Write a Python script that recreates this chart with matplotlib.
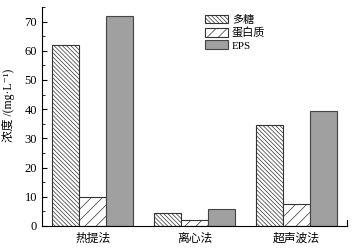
import matplotlib
matplotlib.use("Agg")
import matplotlib.pyplot as plt
import numpy as np
from matplotlib.ticker import MultipleLocator

plt.rcParams['font.family'] = ['Liberation Serif', 'Noto Sans CJK SC', 'DejaVu Serif']
plt.rcParams['hatch.linewidth'] = 0.5
plt.rcParams['hatch.color'] = '#333333'

categories = ['热提法', '离心法', '超声波法']
series_names = ['多糖', '蛋白质', 'EPS']
polysaccharide = [62, 4.3, 34.5]
protein = [10, 2.0, 7.5]
eps = [72, 5.8, 39.3]

fig = plt.figure(figsize=(3.56, 2.5), dpi=100)
ax = fig.add_axes([0.118, 0.096, 0.857, 0.876])

x = np.arange(len(categories))
w = 0.265
ax.bar(x - w, polysaccharide, w, facecolor='white', edgecolor='#333333', hatch='\\' * 8, linewidth=0.8, label=series_names[0])
ax.bar(x, protein, w, facecolor='white', edgecolor='#333333', hatch='///', linewidth=0.8, label=series_names[1])
ax.bar(x + w, eps, w, facecolor='#a0a0a0', edgecolor='#444444', linewidth=0.8, label=series_names[2])

ax.set_xlim(-0.5, 2.5)
ax.set_ylim(0, 75)
ax.set_xticks(x)
ax.set_xticklabels(categories, fontsize=8.5)
ax.yaxis.set_major_locator(MultipleLocator(10))
ax.yaxis.set_minor_locator(MultipleLocator(5))
ax.tick_params(axis='y', direction='in', length=3.5, width=0.8, labelsize=9)
ax.tick_params(axis='y', which='minor', direction='in', length=1.8, width=0.6)
ax.tick_params(axis='x', length=0, pad=5)
ax.spines['top'].set_visible(False)
ax.spines['right'].set_bounds(0, 2)
ax.spines['right'].set_linewidth(0.8)
for s in ['left', 'bottom']:
    ax.spines[s].set_linewidth(0.8)
ax.set_ylabel('浓度 /(mg·L⁻¹)', fontsize=8.5, labelpad=4)
ax.yaxis.set_label_coords(-0.09, 0.55)

ax.legend(loc='upper left', bbox_to_anchor=(0.51, 1.0), frameon=False, fontsize=8,
          handlelength=2.0, handleheight=0.8, labelspacing=0.2, handletextpad=0.4, borderpad=0.2)

fig.savefig('out.png', dpi=100)
